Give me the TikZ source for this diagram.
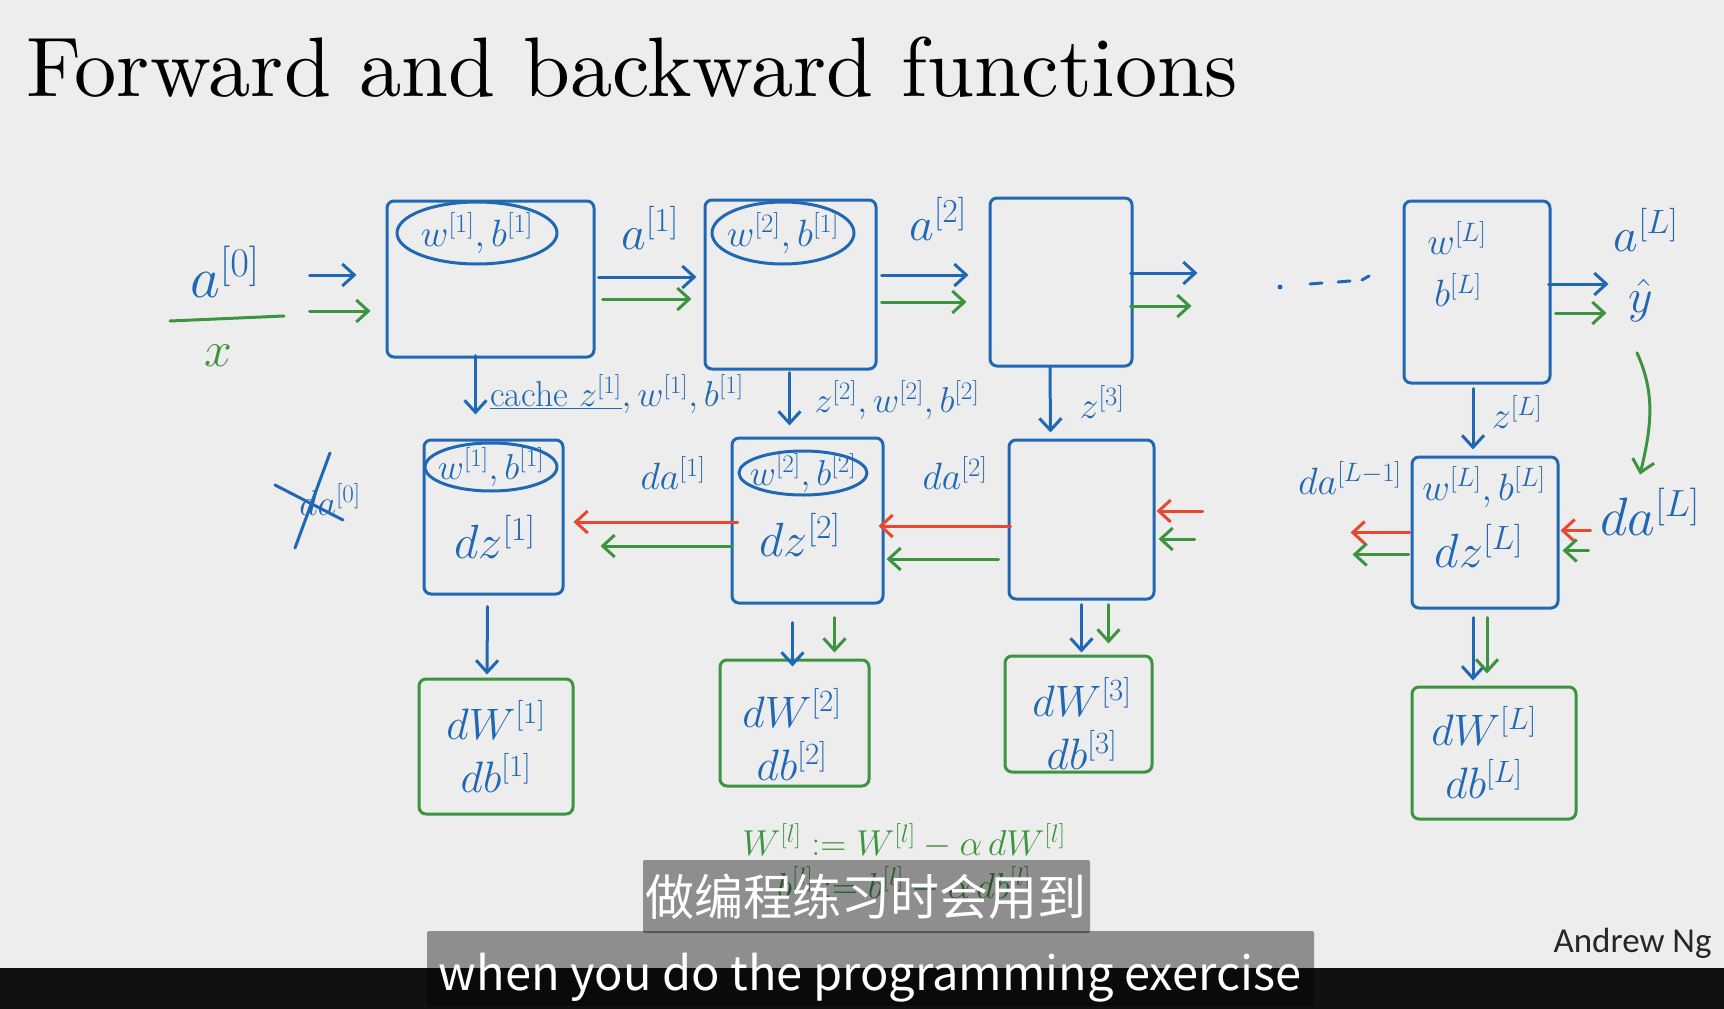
\RequirePackage{fix-cm}
\documentclass[tikz,border=0pt]{standalone}
\usepackage{fontspec}
\newfontfamily\cjk{Noto Sans CJK SC}
\newfontfamily\carlito{Carlito}
\newfontfamily\titlefont{lmroman10-regular.otf}
\usetikzlibrary{arrows.meta,calc,shapes.geometric}
\definecolor{bg}{RGB}{237,237,237}
\definecolor{hblue}{RGB}{33,104,180}
\definecolor{hgreen}{RGB}{60,148,62}
\definecolor{hred}{RGB}{232,72,48}
\definecolor{barblack}{RGB}{17,17,17}
\tikzset{
  fbox/.style={draw=hblue, rectangle, rounded corners=7pt, inner sep=0pt, line width=3pt},
  gbox/.style={draw=hgreen, rectangle, rounded corners=7pt, inner sep=0pt, line width=3pt},
  ell/.style={draw=hblue, ellipse, inner sep=0pt, line width=3pt},
  lbl/.style={text=hblue, inner sep=0pt, font=\fontsize{48}{52}\selectfont},
  lblbig/.style={text=hblue, inner sep=0pt, font=\fontsize{54}{58}\selectfont},
  lbls/.style={text=hblue, inner sep=0pt, font=\fontsize{36}{40}\selectfont},
  lble/.style={text=hblue, inner sep=0pt, font=\fontsize{38}{42}\selectfont},
  lblg/.style={text=hblue, inner sep=0pt, align=center, font=\fontsize{44}{53}\selectfont},
  glbl/.style={text=hgreen, inner sep=0pt, font=\fontsize{36}{40}\selectfont},
  tipped/.style={-{Straight Barb[length=12pt,width=22pt]}},
  barrow/.style={draw=hblue, tipped},
  garrow/.style={draw=hgreen, tipped},
  rarrow/.style={draw=hred, tipped},
  subbox/.style={fill=black, fill opacity=0.4, rounded corners=2pt, draw=none},
}
\begin{document}
\begin{tikzpicture}[x=1pt,y=-1pt,line width=3pt,line cap=round,line join=round]
\fill[bg] (0,0) rectangle (1724,1009);
\useasboundingbox (0,0) rectangle (1724,1009);

% title
\node[anchor=base west, inner sep=0pt, font=\titlefont\fontsize{84.5}{92}\selectfont] (title) at (25,96) {Forward and backward functions};

% forward boxes
\node[fbox, minimum width=207pt, minimum height=156pt] (F1) at (490.5,279) {};
\node[fbox, minimum width=171pt, minimum height=169pt] (F2) at (790.5,284.5) {};
\node[fbox, minimum width=142pt, minimum height=168pt] (F3) at (1061,282) {};
\node[fbox, minimum width=146pt, minimum height=182pt] (FL) at (1477,292) {};
% backward boxes
\node[fbox, minimum width=139pt, minimum height=154pt] (B1) at (493.5,517) {};
\node[fbox, minimum width=151pt, minimum height=165pt] (B2) at (807.5,520.5) {};
\node[fbox, minimum width=145pt, minimum height=159pt] (B3) at (1081.5,519.5) {};
\node[fbox, minimum width=146pt, minimum height=151pt] (BL) at (1485,532.5) {};
% gradient boxes
\node[gbox, minimum width=154pt, minimum height=135pt] (G1) at (496,746.5) {};
\node[gbox, minimum width=149pt, minimum height=126pt] (G2) at (794.5,723) {};
\node[gbox, minimum width=147pt, minimum height=116pt] (G3) at (1078.5,714) {};
\node[gbox, minimum width=164pt, minimum height=132pt] (GL) at (1494,753) {};

% ellipses
\node[ell, minimum width=160pt, minimum height=62pt] (E1) at (477,233) {};
\node[lble] (tE1) at (E1) {$w^{[1]}, b^{[1]}$};
\node[ell, minimum width=142pt, minimum height=62pt] (E2) at (783,233) {};
\node[lble] (tE2) at (E2) {$w^{[2]}, b^{[1]}$};
\node[ell, minimum width=132pt, minimum height=48pt] (E3) at (491,467) {};
\node[lbls] (tE3) at (E3) {$w^{[1]}, b^{[1]}$};
\node[ell, minimum width=128pt, minimum height=44pt] (E4) at (803,473) {};
\node[lbls] (tE4) at (E4) {$w^{[2]}, b^{[2]}$};

% box contents
\node[lbl] (dz1) at (495,537) {$dz^{[1]}$};
\node[lbl] (dz2) at (800,535) {$dz^{[2]}$};
\node[lbl] (dzL) at (1479,546) {$dz^{[L]}$};
\node[lble] (wbL) at (1484,487) {$w^{[L]}, b^{[L]}$};
\node[lble] (wL) at (1457,238) {$w^{[L]}$};
\node[lble] (bL) at (1458,290) {$b^{[L]}$};
\node[lblg] (tG1) at (G1) {$dW^{[1]}$\\$db^{[1]}$};
\node[lblg] (tG2) at (792,734) {$dW^{[2]}$\\$db^{[2]}$};
\node[lblg] (tG3) at (1082,723) {$dW^{[3]}$\\$db^{[3]}$};
\node[lblg] (tGL) at (1484,752) {$dW^{[L]}$\\$db^{[L]}$};

% labels
\node[font=\fontsize{58}{62}\selectfont, text=hblue, inner sep=0pt] (a0) at (225,272) {$a^{[0]}$};
\draw[hgreen] (170,321) -- (284,316);
\node[text=hgreen, inner sep=0pt, font=\fontsize{50}{54}\selectfont] (x) at (218,356) {$x$};
\node[lbl] (a1) at (650,228) {$a^{[1]}$};
\node[lbl] (a2) at (938,219) {$a^{[2]}$};
\node[lbl] (aL) at (1646,230) {$a^{[L]}$};
\node[lbl] (yhat) at (1641,300) {$\hat{y}$};
\node[lbls] (cache) at (617,394) {\underline{cache $z^{[1]}$}$, w^{[1]}, b^{[1]}$};
\node[lbls] (z2) at (897,400) {$z^{[2]}, w^{[2]}, b^{[2]}$};
\node[lble] (z3) at (1102,402) {$z^{[3]}$};
\node[lble] (zL) at (1517,412) {$z^{[L]}$};
\node[lble] (da1) at (673,473) {$da^{[1]}$};
\node[lble] (da2) at (955,473) {$da^{[2]}$};
\node[lble] (daLm) at (1350,478) {$da^{[L-1]}$};
\node[lblbig] (daL) at (1650,512) {$da^{[L]}$};
\node[lbls] (da0) at (330,500) {$da^{[0]}$};
\draw[hblue] (275,485) -- (343,520);
\draw[hblue] (330,453) -- (295,548);

% dots
\fill[hblue] (1280,287) circle (2.5);
\draw[hblue] (1310,284) -- (1322,283);
\draw[hblue] (1338,282) -- (1350,281);
\draw[hblue] (1362,280) -- (1369,276);

% forward arrows
\draw[barrow] ($(F1.west)+(-76,-4)$) -- ($(F1.west)+(-29,-4)$);
\draw[garrow] ($(F1.west)+(-76,32)$) -- ($(F1.west)+(-15,32)$);
\draw[barrow] ($(F1.east)+(3,-2)$) -- ($(F2.west)+(-7,-7.5)$);
\draw[garrow] ($(F1.east)+(7,20)$) -- ($(F2.west)+(-12,14.5)$);
\draw[barrow] ($(F2.east)+(4,-9.5)$) -- ($(F3.west)+(-20,-7)$);
\draw[garrow] ($(F2.east)+(4,17.5)$) -- ($(F3.west)+(-22,20)$);
\draw[barrow] ($(F3.east)+(-3,-9)$) -- ++(67,0);
\draw[garrow] ($(F3.east)+(-3,24)$) -- ++(61,0);
\draw[barrow] ($(FL.east)+(-3,-8)$) -- ++(60,0);
\draw[garrow] ($(FL.east)+(4,21)$) -- ++(51,0);

% cache arrows
\draw[barrow] ($(F1.south)+(-15,-3)$) -- ($(B1.north)+(-18,-24)$);
\draw[barrow] ($(F2.south)+(-1,2)$) -- ($(B2.north)+(-18,-11)$);
\draw[barrow] ($(F3.south)+(-11,0)$) -- ($(B3.north)+(-31,-6)$);
\draw[barrow] ($(FL.south)+(-4,4)$) -- ($(BL.north)+(-12,-6)$);

% loss turn-around
\draw[garrow] ($(yhat.south)+(-4,30)$) .. controls +(18,40) and +(12,-50) .. ($(daL.north)+(-10,-12)$);

% backward arrows
\draw[rarrow] ($(BL.east)+(31,-2)$) -- ($(BL.east)+(1,-2)$);
\draw[garrow] ($(BL.east)+(29,18)$) -- ($(BL.east)+(3,18)$);
\draw[rarrow] ($(BL.west)+(-1,0)$) -- ++(-59,0);
\draw[garrow] ($(BL.west)+(-2,22)$) -- ++(-56,0);
\draw[rarrow] ($(B3.east)+(47,-8.5)$) -- ($(B3.east)+(1,-8.5)$);
\draw[garrow] ($(B3.east)+(39,19.5)$) -- ($(B3.east)+(3,19.5)$);
\draw[rarrow] ($(B3.west)+(3,6.5)$) -- ($(B2.east)+(-6,5.5)$);
\draw[garrow] ($(B3.west)+(-9,39.5)$) -- ($(B2.east)+(2,38.5)$);
\draw[rarrow] ($(B2.west)+(7,1.5)$) -- ($(B1.east)+(9,5)$);
\draw[garrow] ($(B2.west)+(2,25.5)$) -- ($(B1.east)+(36,29)$);

% to gradient boxes
\draw[barrow] ($(B1.south)+(-6,11)$) -- ($(G1.north)+(-9,-3)$);
\draw[barrow] ($(B2.south)+(-15,18)$) -- ($(G2.north)+(-2,8)$);
\draw[garrow] ($(B2.south)+(27,13)$) -- ($(G2.north)+(40,-6)$);
\draw[barrow] ($(B3.south)+(0,4)$) -- ($(G3.north)+(3,-2)$);
\draw[garrow] ($(B3.south)+(27,4)$) -- ($(G3.north)+(30,-11)$);
\draw[barrow] ($(BL.south)+(-12,8)$) -- ($(GL.north)+(-21,-5)$);
\draw[garrow] ($(BL.south)+(2,8)$) -- ($(GL.north)+(-7,-12)$);

% update rules
\node[glbl] (upW) at (904,841) {$W^{[l]} := W^{[l]} - \alpha\, dW^{[l]}$};
\node[glbl] (upb) at (904,884) {$b^{[l]} := b^{[l]} - \alpha\, db^{[l]}$};

% author
\node[anchor=base east, inner sep=0pt, font=\carlito\fontsize{35}{38}\selectfont, text=black!85] (author) at (1713,952) {Andrew Ng};

% subtitle bar
\fill[barblack] (0,968) rectangle (1724,1009);
\fill[subbox] (643,860) rectangle (1090,933);
\node[text=white, inner sep=0pt, font=\cjk\fontsize{49}{54}\selectfont] (zh) at (866,897) {做编程练习时会用到};
\fill[subbox] (427,931) rectangle (1314,1006);
\node[anchor=base, text=white, inner sep=0pt, font=\cjk\fontsize{47}{50}\selectfont] (en) at (870,990) {when you do the programming exercise};
\end{tikzpicture}
\end{document}
